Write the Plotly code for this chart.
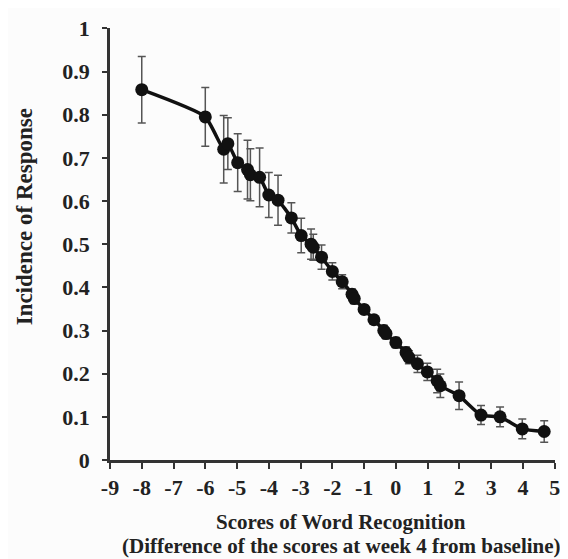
import plotly.graph_objects as go

score_diff = [-8, -6, -5.42, -5.29, -4.98, -4.67, -4.58, -4.29, -4.0, -3.71, -3.29,
              -2.98, -2.67, -2.60, -2.34, -2.0, -1.69, -1.38, -1.31, -1.0, -0.69,
              -0.38, -0.31, 0.0, 0.32, 0.41, 0.68, 0.99, 1.30, 1.40, 1.99, 2.68,
              3.28, 3.98, 4.67]
incidence = [0.858, 0.795, 0.720, 0.733, 0.689, 0.673, 0.661, 0.655, 0.614, 0.602, 0.561,
             0.520, 0.500, 0.493, 0.470, 0.437, 0.413, 0.384, 0.374, 0.349, 0.325,
             0.300, 0.293, 0.272, 0.249, 0.238, 0.223, 0.204, 0.183, 0.172, 0.149, 0.104,
             0.100, 0.072, 0.066]
err = [0.077, 0.068, 0.078, 0.060, 0.067, 0.068, 0.060, 0.068, 0.052, 0.058, 0.035,
       0.040, 0.035, 0.030, 0.028, 0.020, 0.016, 0.012, 0.012, 0.010, 0.010,
       0.012, 0.012, 0.012, 0.013, 0.015, 0.020, 0.020, 0.027, 0.027, 0.032, 0.022,
       0.023, 0.023, 0.025]

x_ticks = list(range(-9, 6))
x_tick_labels = [str(v) for v in x_ticks]  # plain hyphen minus as in the original
y_ticks = [0, 0.1, 0.2, 0.3, 0.4, 0.5, 0.6, 0.7, 0.8, 0.9, 1]
y_tick_labels = ["0", "0.1", "0.2", "0.3", "0.4", "0.5", "0.6", "0.7", "0.8", "0.9", "1"]

FONT = "Liberation Serif"

fig = go.Figure()
fig.add_trace(go.Scatter(
    x=score_diff, y=incidence, mode="lines+markers",
    line=dict(color="#111111", width=3.5, shape="spline", smoothing=0.5),
    marker=dict(color="#111111", size=13),
    error_y=dict(type="data", array=err, visible=True, color="#555555",
                 thickness=1.5, width=4),
    showlegend=False, cliponaxis=False,
))

fig.update_layout(
    width=560, height=551,
    margin=dict(l=102, r=8, t=11, b=99),
    paper_bgcolor="#fcfcfc", plot_bgcolor="#fcfcfc",
    font=dict(family=FONT, color="#222222"),
    xaxis=dict(range=[-9, 5.01], tickvals=x_ticks, ticktext=x_tick_labels,
               ticks="outside", ticklen=6, ticklabeloverflow="allow",
               tickwidth=2, tickcolor="#333333", showline=True, linewidth=2.5,
               linecolor="#333333", showgrid=False, zeroline=False,
               tickfont=dict(family=FONT, size=22, color="#222222", weight="bold")),
    yaxis=dict(range=[0, 1.001], tickvals=y_ticks, ticktext=y_tick_labels,
               ticks="outside", ticklen=5, tickwidth=2, tickcolor="#333333",
               showline=True, linewidth=2.5, linecolor="#333333", showgrid=False,
               zeroline=False, ticklabelstandoff=8, ticklabeloverflow="allow",
               tickfont=dict(family=FONT, size=22, color="#222222", weight="bold")),
    annotations=[
        dict(text="<b>Incidence of Response</b>", xref="paper", yref="paper",
             x=-0.193, y=0.562, textangle=-90, showarrow=False,
             font=dict(family=FONT, size=23, color="#222222"),
             xanchor="center", yanchor="middle"),
        dict(text="<b>Scores of Word Recognition</b>", xref="paper", yref="paper",
             x=0.52, y=-0.143, showarrow=False,
             font=dict(family=FONT, size=21, color="#222222"),
             xanchor="center", yanchor="middle"),
        dict(text="<b>(Difference of the scores at week 4 from baseline)</b>",
             xref="paper", yref="paper", x=0.52, y=-0.2, showarrow=False,
             font=dict(family=FONT, size=21, color="#222222"),
             xanchor="center", yanchor="middle"),
    ],
)

fig.write_html("out.html")
